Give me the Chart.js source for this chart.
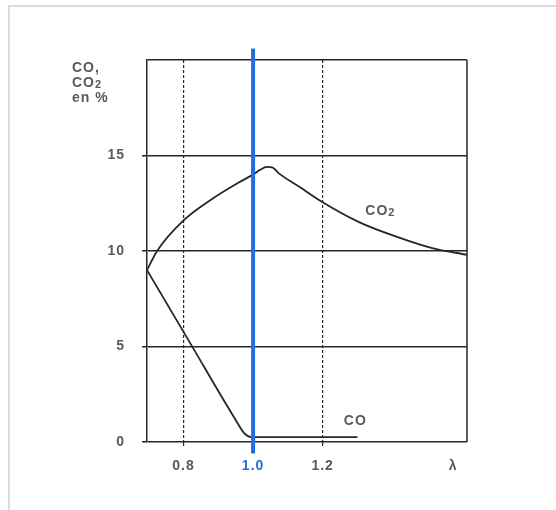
<!DOCTYPE html>
<html>
<head>
<meta charset="utf-8">
<script src="https://cdn.jsdelivr.net/npm/chart.js@4/dist/chart.umd.min.js"></script>
<style>
  body { margin: 0; background: #fff; }
</style>
</head>
<body>
<canvas id="myChart" width="556" height="510"></canvas>
<script>
'use strict';

// CO2 curve (lambda, %)
let lambdaCO2 = [0.695, 0.724, 0.80, 0.88, 0.96, 1.00, 1.02, 1.04, 1.055, 1.075, 1.134, 1.20, 1.306, 1.42, 1.515, 1.615];
let valuesCO2 = [9.0, 10.0, 11.6, 12.7, 13.6, 14.0, 14.25, 14.4, 14.38, 14.05, 13.35, 12.55, 11.5, 10.7, 10.15, 9.8];
// CO curve (lambda, %)
let lambdaCO = [0.695, 0.82, 0.95, 0.975, 0.995, 1.30];
let valuesCO = [9.0, 5.15, 1.15, 0.45, 0.26, 0.26];

let xTickValues = [0.8, 1.0, 1.2, 1.575];
let xTickLabels = ['0.8', '1.0', '1.2', 'λ'];
let dashedAt = [0.8, 1.2];
let stoichLambda = 1.0;
let yTitle = ['CO,', 'CO2', 'en %'];
let curveLabels = [
    { text: 'CO2', x: 1.366, y: 12.1 },
    { text: 'CO', x: 1.294, y: 1.1 }
];

let ink = '#262626';
let txt = '#5a5a5a';
let blue = '#1f6fe0';
let none = 'rgba(0,0,0,0)';
let fontFam = '"Liberation Sans", Arial, sans-serif';

function toPoints(xs, ys) {
    return xs.map((x, i) => ({ x: x, y: ys[i] }));
}

// writes "CO2" with a smaller, lowered 2
function chemText(ctx, text, x, y, align) {
    let main = text.replace(/2$/, '');
    let sub = text.length > main.length ? '2' : '';
    ctx.font = 'bold 14px ' + fontFam;
    let w1 = ctx.measureText(main).width;
    ctx.font = 'bold 11px ' + fontFam;
    let w2 = sub ? ctx.measureText(sub).width : 0;
    let left = align === 'center' ? x - (w1 + w2) / 2 : x;
    ctx.textAlign = 'left';
    ctx.font = 'bold 14px ' + fontFam;
    ctx.fillText(main, left, y);
    if (sub) {
        ctx.font = 'bold 11px ' + fontFam;
        ctx.fillText(sub, left + w1, y + 2);
    }
}

let paperPlugin = {
    id: 'paper',
    beforeDraw(chart) {
        let ctx = chart.ctx;
        ctx.save();
        ctx.fillStyle = '#fff';
        ctx.fillRect(0, 0, chart.width, chart.height);
        ctx.strokeStyle = '#dcdcdc';
        ctx.lineWidth = 2;
        ctx.beginPath();
        ctx.moveTo(9, chart.height);
        ctx.lineTo(9, 6);
        ctx.lineTo(chart.width, 6);
        ctx.stroke();
        ctx.restore();
        ctx.letterSpacing = '1px';
    },
    beforeDatasetsDraw(chart) {
        let a = chart.chartArea;
        let ctx = chart.ctx;
        ctx.save();
        ctx.strokeStyle = ink;
        ctx.lineWidth = 1.5;
        ctx.beginPath();
        ctx.moveTo(a.right, a.top);
        ctx.lineTo(a.right, a.bottom);
        ctx.stroke();
        ctx.restore();
    },
    afterDatasetsDraw(chart) {
        let ctx = chart.ctx;
        let xs = chart.scales.x;
        let ys = chart.scales.y;
        ctx.save();
        ctx.fillStyle = txt;
        ctx.textBaseline = 'middle';
        yTitle.forEach((line, i) => {
            chemText(ctx, line, 72, 68 + i * 15, 'left');
        });
        curveLabels.forEach(l => {
            chemText(ctx, l.text, xs.getPixelForValue(l.x), ys.getPixelForValue(l.y), 'center');
        });
        ctx.restore();
    }
};

let ctx = document.getElementById('myChart').getContext('2d');
let myChart = new Chart(ctx, {
    type: 'line',
    data: {
        datasets: [{
            label: 'lambda = 1',
            data: [{ x: stoichLambda, y: -0.6 }, { x: stoichLambda, y: 20.6 }],
            borderColor: blue,
            borderWidth: 4,
            pointRadius: 0,
            clip: false
        }, {
            label: 'CO2',
            data: toPoints(lambdaCO2, valuesCO2),
            borderColor: ink,
            borderWidth: 1.8,
            pointRadius: 0,
            cubicInterpolationMode: 'monotone'
        }, {
            label: 'CO',
            data: toPoints(lambdaCO, valuesCO),
            borderColor: ink,
            borderWidth: 1.8,
            pointRadius: 0,
            cubicInterpolationMode: 'monotone'
        }]
    },
    options: {
        responsive: false,
        animation: false,
        devicePixelRatio: 1,
        layout: { padding: { top: 60, right: 89, bottom: 0, left: 0 } },
        plugins: {
            legend: { display: false },
            tooltip: { enabled: false }
        },
        scales: {
            x: {
                type: 'linear',
                min: 0.695,
                max: 1.615,
                afterFit(s) { s.height = 68; },
                afterBuildTicks(s) { s.ticks = xTickValues.map(v => ({ value: v })); },
                ticks: {
                    autoSkip: false,
                    maxRotation: 0,
                    padding: 12,
                    font: { family: fontFam, size: 14, weight: 'bold' },
                    color: c => (c.tick && c.tick.value === stoichLambda) ? blue : txt,
                    callback: v => xTickLabels[xTickValues.indexOf(v)]
                },
                grid: {
                    color: c => (c.tick && dashedAt.includes(c.tick.value)) ? ink : none,
                    tickColor: c => (c.tick && dashedAt.includes(c.tick.value)) ? ink : none,
                    lineWidth: 1.2,
                    tickLength: 4
                },
                border: {
                    display: false,
                    dash: c => c.type === 'tick' ? [3, 2] : []
                }
            },
            y: {
                min: 0,
                max: 20,
                afterFit(s) { s.width = 147; },
                ticks: {
                    stepSize: 5,
                    padding: 17,
                    font: { family: fontFam, size: 14, weight: 'bold' },
                    color: txt,
                    callback: v => v === 20 ? '' : v
                },
                grid: {
                    color: ink,
                    lineWidth: 1.5,
                    tickLength: 5,
                    tickColor: c => (c.tick && c.tick.value === 20) ? none : ink
                },
                border: { color: ink, width: 1.5 }
            }
        }
    },
    plugins: [paperPlugin]
});
</script>
</body>
</html>
